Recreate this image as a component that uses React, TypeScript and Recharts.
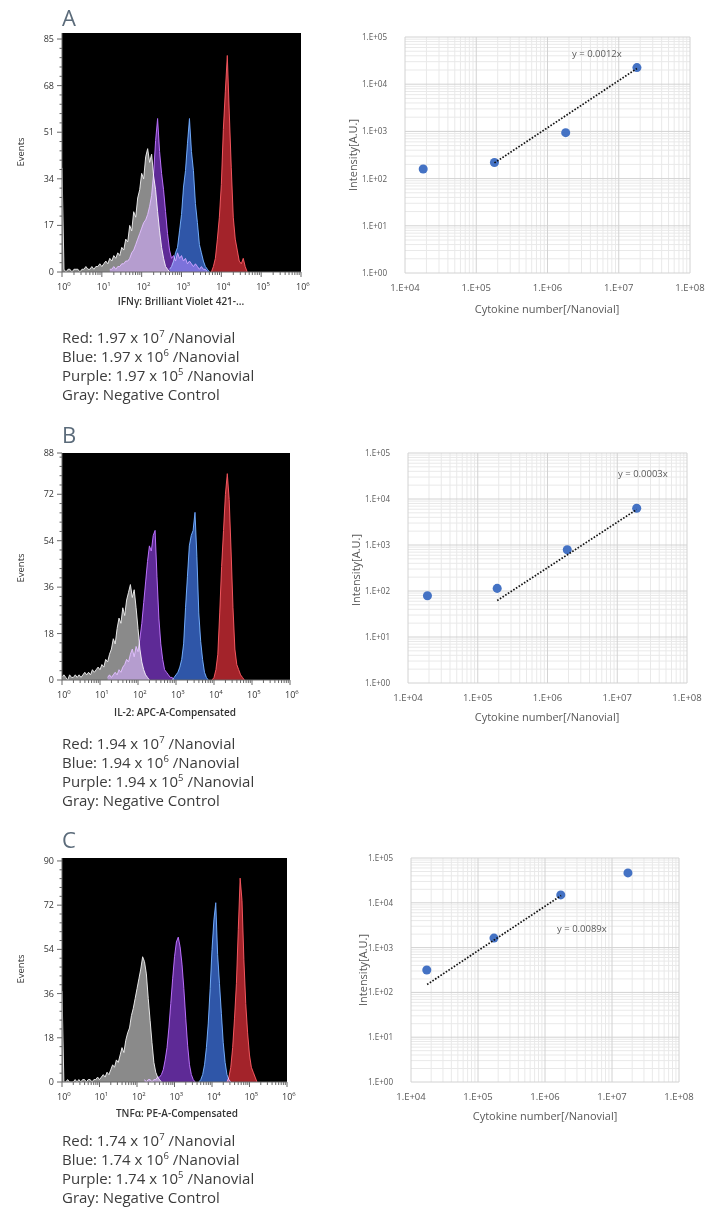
import React from 'react'
import { ComposedChart, Area, XAxis, YAxis, CartesianGrid, ScatterChart, Scatter } from 'recharts'

// histogram bins are 0.05 decade wide, x is log10(intensity)
const HIST_STEP = 0.05
const histDecades = [0, 1, 2, 3, 4, 5, 6]

// ---- Panel A: IFNy ----
const histYTicksA = [0, 17, 34, 51, 68, 85]
const grayAStart = 0
const grayA = [38, 1, 0, 1, 1, 0, 1, 1, 1, 0, 1, 1, 2, 1, 1, 2, 1, 2, 2, 3, 2, 3, 4, 3, 5, 4, 6, 5, 7, 6, 9, 8, 12, 11, 17, 15, 22, 20, 27, 30, 36, 34, 42, 45, 40, 43, 35, 30, 22, 15, 9, 5, 2, 1, 0]
const purpleAStart = 1.2
const purpleA = [1, 1, 2, 1, 2, 2, 3, 3, 4, 4, 5, 7, 8, 10, 12, 14, 16, 18, 19, 21, 24, 28, 36, 48, 56, 44, 36, 30, 22, 14, 8, 5, 6, 4, 7, 5, 6, 4, 5, 3, 4, 3, 2, 3, 2, 1, 2, 1, 1, 0]
const blueAStart = 2.7
const blueA = [1, 2, 4, 7, 9, 15, 21, 31, 37, 47, 56, 44, 37, 25, 18, 10, 7, 4, 2, 1, 0]
const redAStart = 3.75
const redA = [0, 2, 5, 12, 20, 32, 52, 66, 79, 58, 38, 20, 12, 8, 4, 3, 5, 2, 0]

// ---- Panel B: IL-2 ----
const histYTicksB = [0, 18, 36, 54, 72, 88]
const grayBStart = 0
const grayB = [1, 2, 1, 0, 2, 1, 1, 2, 1, 2, 1, 2, 3, 2, 3, 2, 4, 3, 4, 5, 4, 6, 5, 8, 7, 10, 12, 16, 14, 20, 24, 22, 28, 25, 31, 34, 37, 32, 35, 28, 20, 12, 7, 4, 2, 1, 0]
const purpleBStart = 1.2
const purpleB = [1, 2, 1, 2, 3, 2, 4, 3, 5, 6, 8, 7, 10, 12, 9, 13, 11, 16, 22, 30, 38, 46, 52, 50, 56, 58, 40, 24, 14, 8, 4, 3, 2, 1, 1, 0]
const blueBStart = 2.9
const blueB = [0, 1, 2, 3, 5, 8, 14, 28, 40, 52, 56, 58, 65, 48, 26, 15, 8, 3, 1, 0]
const redBStart = 3.95
const redB = [0, 1, 4, 10, 26, 44, 58, 72, 80, 70, 50, 28, 12, 6, 4, 2, 1, 0]

// ---- Panel C: TNFa ----
const histYTicksC = [0, 18, 36, 54, 72, 90]
const grayCStart = 0
const grayC = [37, 0, 0, 1, 0, 0, 0, 1, 0, 1, 0, 1, 1, 0, 1, 1, 0, 1, 1, 2, 1, 2, 3, 2, 4, 3, 5, 7, 6, 9, 8, 11, 14, 12, 17, 20, 22, 27, 30, 34, 38, 42, 46, 51, 49, 44, 34, 25, 16, 8, 4, 2, 1, 0]
const purpleCStart = 2.2
const purpleC = [1, 0, 1, 1, 0, 1, 1, 2, 2, 3, 5, 9, 14, 22, 32, 42, 51, 57, 59, 55, 48, 38, 26, 15, 7, 3, 1, 0]
const blueCStart = 3.65
const blueC = [0, 1, 3, 7, 14, 24, 38, 54, 66, 73, 52, 40, 28, 16, 8, 3, 1, 0]
const redCStart = 4.4
const redC = [0, 2, 6, 14, 26, 40, 62, 83, 74, 50, 32, 20, 11, 6, 4, 2, 0]

// ---- scatter (calibration) data ----
const scatterXTicks = [1e4, 1e5, 1e6, 1e7, 1e8]
const scatterXLabels = ['1.E+04', '1.E+05', '1.E+06', '1.E+07', '1.E+08']
const scatterYTicks = [1, 10, 100, 1e3, 1e4, 1e5]
const scatterYLabels = ['1.E+00', '1.E+01', '1.E+02', '1.E+03', '1.E+04', '1.E+05']

const cytokineA = [1.8e4, 1.8e5, 1.8e6, 1.8e7]
const intensityA = [160, 220, 940, 22500]
const trendXA = [1.8e5, 1.8e7]
const trendYA = [215, 21500]

const cytokineB = [1.9e4, 1.9e5, 1.92e6, 1.9e7]
const intensityB = [79, 114, 790, 6300]
const trendXB = [1.9e5, 1.9e7]
const trendYB = [62, 5900]

const cytokineC = [1.72e4, 1.73e5, 1.72e6, 1.73e7]
const intensityC = [316, 1630, 15000, 46500]
const trendXC = [1.74e4, 1.74e6]
const trendYC = [150, 14500]

const legendA = [['Red', '1.97', '7'], ['Blue', '1.97', '6'], ['Purple', '1.97', '5']]
const legendB = [['Red', '1.94', '7'], ['Blue', '1.94', '6'], ['Purple', '1.94', '5']]
const legendC = [['Red', '1.74', '7'], ['Blue', '1.74', '6'], ['Purple', '1.74', '5']]

const COLORS: any = {
  gray: { fill: '#8a8a8a', stroke: '#dadada' },
  purple: { fill: '#5e2a96', stroke: '#a862f5' },
  blue: { fill: '#2f56a8', stroke: '#6197f2' },
  red: { fill: '#a3232a', stroke: '#ea4a50' },
}

// log minor ticks 1..9 per decade
const histXTicks: number[] = []
histDecades.slice(0, -1).forEach(d => {
  for (let k = 1; k <= 9; k++) histXTicks.push(d + Math.log10(k))
})
histXTicks.push(6)

const minorGrid = (from: number, to: number) => {
  const out: number[] = []
  for (let d = from; d < to; d++) for (let k = 2; k <= 9; k++) out.push(k * Math.pow(10, d))
  return out
}
const scatterXMinor = minorGrid(4, 8)
const scatterYMinor = minorGrid(0, 5)

function buildHist(series: { key: string; start: number; values: number[] }[]) {
  const n = Math.round(6 / HIST_STEP)
  const rows: any[] = []
  for (let i = 0; i <= n; i++) {
    const row: any = { x: i * HIST_STEP }
    series.forEach(s => {
      const j = i - Math.round(s.start / HIST_STEP)
      row[s.key] = j >= 0 && j < s.values.length ? s.values[j] : null
    })
    rows.push(row)
  }
  return rows
}

const FONT = '"Open Sans", "Noto Sans", sans-serif'

const HistXTick = ({ x, y, payload }: any) => {
  const v = payload.value
  const major = Math.abs(v - Math.round(v)) < 1e-6
  return (
    <g>
      <line x1={x} x2={x} y1={y} y2={y + (major ? 5 : 3)} stroke="#666" />
      {major && (
        <text x={x - 5} y={y + 18} fontSize={9} fill="#333" fontFamily={FONT}>
          10<tspan fontSize={6} dy={-4}>{Math.round(v)}</tspan>
        </text>
      )}
    </g>
  )
}

const HistYTick = ({ x, y, payload, majors }: any) => {
  const major = majors.includes(payload.value)
  return (
    <g>
      <line x1={x - (major ? 5 : 2.5)} x2={x} y1={y} y2={y} stroke="#666" />
      {major && (
        <text x={x - 8} y={y + 3} textAnchor="end" fontSize={9} fill="#333" fontFamily={FONT}>
          {payload.value}
        </text>
      )}
    </g>
  )
}

function Histogram({ top, width, height, rightPad, xAxisH, yMax, yMajors, series }: any) {
  const data = buildHist(series)
  const step = yMajors[1] / 5
  const yTicks: number[] = []
  for (let v = 0; v <= yMax + 1e-6; v += step) yTicks.push(Math.round(v * 100) / 100)
  yMajors.forEach((m: number) => { if (!yTicks.includes(m)) yTicks.push(m) })
  return (
    <div className="hist" style={{ position: 'absolute', left: 0, top }}>
      <ComposedChart width={width} height={height} data={data} margin={{ top: 33, right: rightPad, left: 0, bottom: 0 }}>
        <CartesianGrid horizontal={false} vertical={false} fill="#000" />
        <XAxis type="number" dataKey="x" domain={[0, 6]} ticks={histXTicks} interval={0} height={xAxisH}
          tickLine={false} tickSize={0} tickMargin={0} tick={<HistXTick />} axisLine={{ stroke: '#666' }} />
        <YAxis type="number" domain={[0, yMax]} ticks={yTicks.sort((a, b) => a - b)} interval={0} width={62}
          tickLine={false} tickSize={0} tickMargin={0} tick={<HistYTick majors={yMajors} />} axisLine={{ stroke: '#666' }} />
        {series.map((s: any) => (
          <Area key={s.key} type="linear" dataKey={s.key} fill={COLORS[s.key].fill} fillOpacity={1}
            stroke={COLORS[s.key].stroke} strokeWidth={1} dot={false} activeDot={false}
            isAnimationActive={false} />
        ))}
      </ComposedChart>
    </div>
  )
}

const ScatterXTick = ({ x, y, index }: any) => (
  <text x={x} y={y + 18} textAnchor="middle" fontSize={9.5} fill="#595959" fontFamily={FONT}>
    {scatterXLabels[index]}
  </text>
)

const ScatterYTick = ({ x, y, index }: any) => (
  <text transform={`translate(${x - 18},${y + 3}) scale(0.85,1)`} textAnchor="end" fontSize={9.5} fill="#595959" fontFamily={FONT}>
    {scatterYLabels[index]}
  </text>
)

function LogScatter({ top, height, marginTop, yAxisW, rightPad, xAxisH, xs, ys, tx, ty }: any) {
  const pts = xs.map((x: number, i: number) => ({ x, y: ys[i] }))
  const trend = tx.map((x: number, i: number) => ({ x, y: ty[i] }))
  return (
    <div style={{ position: 'absolute', left: 340, top }}>
      <ScatterChart width={378} height={height} margin={{ top: marginTop, right: rightPad, left: 0, bottom: 0 }}>
        <CartesianGrid stroke="#e9e9e9" verticalValues={scatterXMinor} horizontalValues={scatterYMinor} />
        <CartesianGrid stroke="#d2d2d2" verticalValues={scatterXTicks} horizontalValues={scatterYTicks} />
        <XAxis type="number" dataKey="x" scale="log" domain={[1e4, 1e8]} ticks={scatterXTicks} interval={0} height={xAxisH}
          axisLine={false} tickLine={false} tickSize={0} tickMargin={0} tick={<ScatterXTick />} allowDataOverflow />
        <YAxis type="number" dataKey="y" scale="log" domain={[1, 1e5]} ticks={scatterYTicks} interval={0} width={yAxisW}
          axisLine={false} tickLine={false} tickSize={0} tickMargin={0} tick={<ScatterYTick />} allowDataOverflow />
        <Scatter data={pts} fill="#4472c4" isAnimationActive={false} />
        <Scatter data={trend} line={{ stroke: '#111', strokeWidth: 1.7, strokeDasharray: '1.6 1.6' }}
          shape={() => <g />} isAnimationActive={false} />
      </ScatterChart>
    </div>
  )
}

const abs = (left: number, top: number, extra: any = {}) => ({ position: 'absolute' as const, left, top, ...extra })

function Centered({ cx, cy, rotate, size, color, weight, children }: any) {
  return (
    <div style={{
      position: 'absolute', left: cx, top: cy, whiteSpace: 'nowrap', fontFamily: FONT, fontSize: size,
      color, fontWeight: weight || 400, lineHeight: 1,
      transform: `translate(-50%, -50%)${rotate ? ' rotate(-90deg)' : ''}`,
    }}>{children}</div>
  )
}

function Legend({ top, rows }: any) {
  return (
    <div style={abs(62, top, { fontFamily: FONT, fontSize: 15, lineHeight: '19px', color: '#3c3c3c', whiteSpace: 'nowrap' })}>
      {rows.map((r: string[]) => (
        <div key={r[0]}>
          {r[0]}: {r[1]} x 10<span style={{ fontSize: 9.5, lineHeight: 0, position: 'relative', top: -6 }}>{r[2]}</span> /Nanovial
        </div>
      ))}
      <div>Gray: Negative Control</div>
    </div>
  )
}

const Letter = ({ top, children }: any) => (
  <div style={abs(62, top, { fontFamily: FONT, fontSize: 22, lineHeight: '22px', color: '#5b6b7a' })}>{children}</div>
)

// screen blending makes overlapping histograms look like the cytometer overlay
const blendCss = `.hist .recharts-area-area, .hist .recharts-area-curve { mix-blend-mode: screen; }`

export default function App() {
  const seriesA = [
    { key: 'gray', start: grayAStart, values: grayA },
    { key: 'purple', start: purpleAStart, values: purpleA },
    { key: 'blue', start: blueAStart, values: blueA },
    { key: 'red', start: redAStart, values: redA },
  ]
  const seriesB = [
    { key: 'gray', start: grayBStart, values: grayB },
    { key: 'purple', start: purpleBStart, values: purpleB },
    { key: 'blue', start: blueBStart, values: blueB },
    { key: 'red', start: redBStart, values: redB },
  ]
  const seriesC = [
    { key: 'gray', start: grayCStart, values: grayC },
    { key: 'purple', start: purpleCStart, values: purpleC },
    { key: 'blue', start: blueCStart, values: blueC },
    { key: 'red', start: redCStart, values: redC },
  ]
  return (
    <div style={{ position: 'absolute', left: 0, top: 0, width: 718, height: 1209, background: '#fff', overflow: 'hidden' }}>
      <style>{blendCss}</style>
      {/* A */}
      <Letter top={6}>A</Letter>
      <Histogram top={0} width={310} height={310} rightPad={9} xAxisH={38} yMax={87.2} yMajors={histYTicksA} series={seriesA} />
      <Centered cx={21} cy={152} rotate size={9.5} color="#333">Events</Centered>
      <Centered cx={181} cy={301} size={10} color="#333" weight={600}>IFNγ: Brilliant Violet 421-...</Centered>
      <Legend top={328} rows={legendA} />
      <LogScatter top={0} height={320} marginTop={37} yAxisW={65} rightPad={28} xAxisH={47}
        xs={cytokineA} ys={intensityA} tx={trendXA} ty={trendYA} />
      <Centered cx={352} cy={155} rotate size={11} color="#595959">Intensity[A.U.]</Centered>
      <Centered cx={547} cy={308} size={11} color="#595959">Cytokine number[/Nanovial]</Centered>
      <div style={abs(572, 48, { fontFamily: FONT, fontSize: 9.5, color: '#595959', lineHeight: '12px' })}>y = 0.0012x</div>

      {/* B */}
      <Letter top={423}>B</Letter>
      <Histogram top={420} width={300} height={300} rightPad={10} xAxisH={40} yMax={88} yMajors={histYTicksB} series={seriesB} />
      <Centered cx={21} cy={568} rotate size={9.5} color="#333">Events</Centered>
      <Centered cx={175} cy={712} size={10} color="#333" weight={600}>IL-2: APC-A-Compensated</Centered>
      <Legend top={734} rows={legendB} />
      <LogScatter top={420} height={300} marginTop={33} yAxisW={68} rightPad={31} xAxisH={37}
        xs={cytokineB} ys={intensityB} tx={trendXB} ty={trendYB} />
      <Centered cx={355} cy={570} rotate size={11} color="#595959">Intensity[A.U.]</Centered>
      <Centered cx={547} cy={716} size={11} color="#595959">Cytokine number[/Nanovial]</Centered>
      <div style={abs(618, 468, { fontFamily: FONT, fontSize: 9.5, color: '#595959', lineHeight: '12px' })}>y = 0.0003x</div>

      {/* C */}
      <Letter top={828}>C</Letter>
      <Histogram top={825} width={297} height={297} rightPad={10} xAxisH={40} yMax={91.2} yMajors={histYTicksC} series={seriesC} />
      <Centered cx={21} cy={969} rotate size={9.5} color="#333">Events</Centered>
      <Centered cx={177} cy={1113} size={10} color="#333" weight={600}>TNFα: PE-A-Compensated</Centered>
      <Legend top={1131} rows={legendC} />
      <LogScatter top={825} height={300} marginTop={33} yAxisW={71} rightPad={39} xAxisH={43}
        xs={cytokineC} ys={intensityC} tx={trendXC} ty={trendYC} />
      <Centered cx={362} cy={970} rotate size={11} color="#595959">Intensity[A.U.]</Centered>
      <Centered cx={545} cy={1115} size={11} color="#595959">Cytokine number[/Nanovial]</Centered>
      <div style={abs(557, 923, { fontFamily: FONT, fontSize: 9.5, color: '#595959', lineHeight: '12px' })}>y = 0.0089x</div>
    </div>
  )
}
